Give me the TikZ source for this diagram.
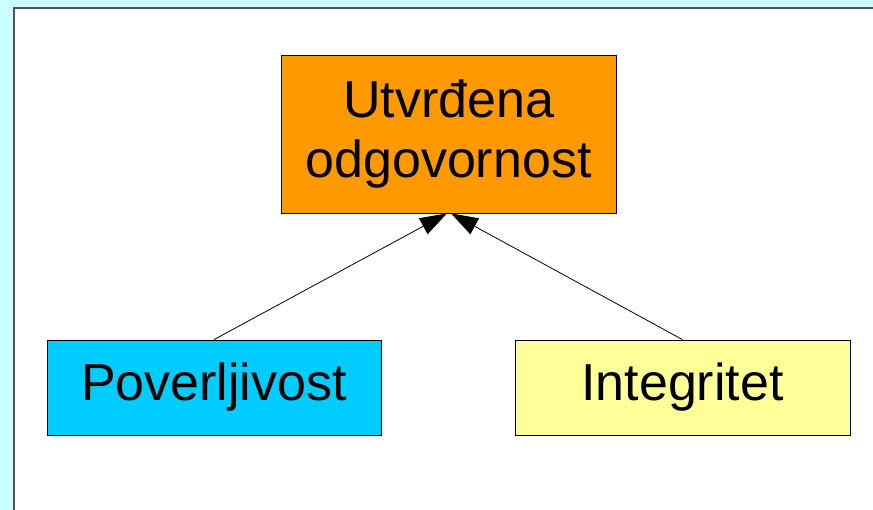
\documentclass[tikz,border=0pt]{standalone}
\usepackage{fontspec}
\setmainfont{Liberation Sans}
\usetikzlibrary{arrows.meta}
\definecolor{bgcyan}{HTML}{CCFFFF}
\definecolor{frame}{HTML}{4A5555}
\definecolor{boxorange}{HTML}{FF9900}
\definecolor{boxcyan}{HTML}{00CCFF}
\definecolor{boxyellow}{HTML}{FFFF99}
\tikzset{
  conceptbox/.style={draw=black, line width=0.8pt, inner sep=0pt, align=center,
    font=\fontsize{52pt}{60pt}\selectfont, text=black},
  uplink/.style={draw=black, line width=0.8pt, -{Triangle[length=27pt,width=18pt]}}
}
\begin{document}
\begin{tikzpicture}[x=1pt,y=-1pt]
  % page and panel
  \fill[bgcyan] (0,0) rectangle (873,510);
  \useasboundingbox (0,0) rectangle (873,510);
  \fill[white] (14,8) rectangle (873,510);
  \draw[frame, line width=2.2pt] (14,510) -- (14,8) -- (873,8);

  % concepts
  \node[conceptbox, fill=boxorange, minimum width=335pt, minimum height=158pt]
    (utv) at (448.5,134) {Utvrđena\\odgovornost};
  \node[conceptbox, fill=boxcyan, minimum width=334pt, minimum height=95pt]
    (pov) at (214,387.5) {Poverljivost};
  \node[conceptbox, fill=boxyellow, minimum width=335pt, minimum height=95pt]
    (int) at (682.5,387.5) {Integritet};

  % links
  \draw[uplink] (pov.north) -- ([xshift=-1.5pt]utv.south);
  \draw[uplink] (int.north) -- ([xshift=2.5pt]utv.south);
\end{tikzpicture}
\end{document}
